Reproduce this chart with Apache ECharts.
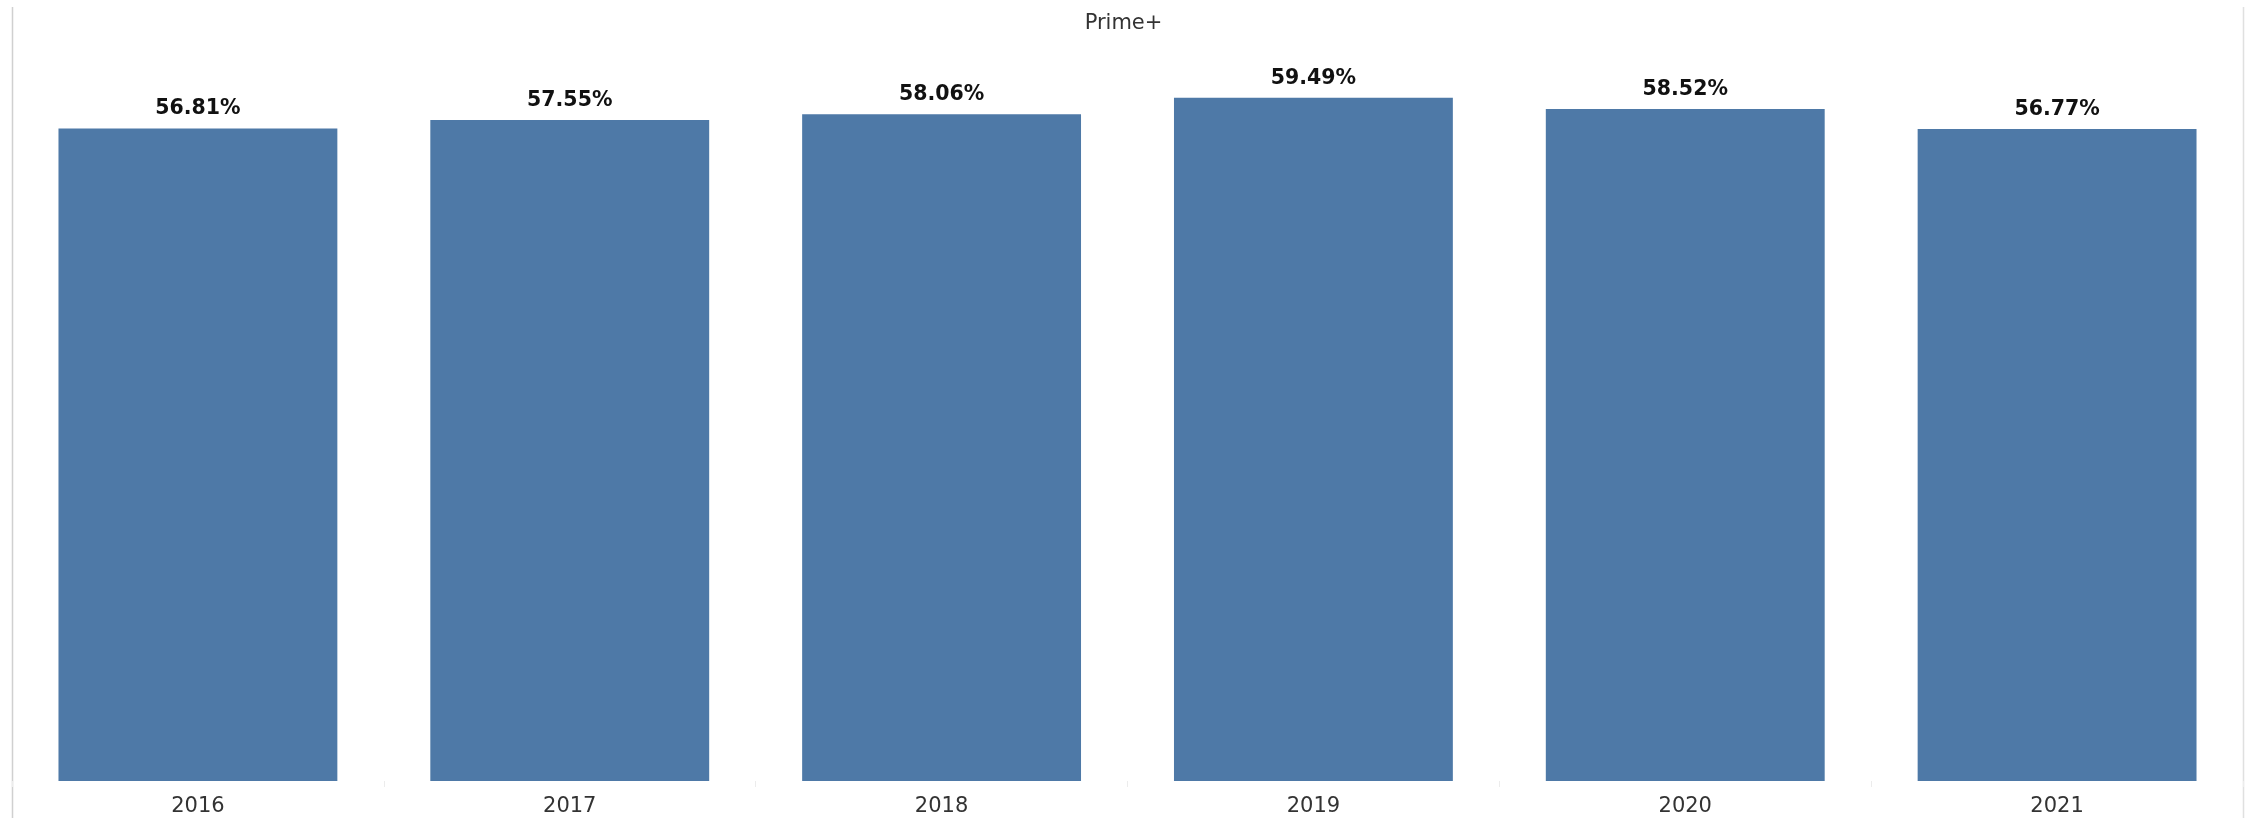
<!DOCTYPE html>
<html>
<head>
  <meta charset="utf-8">
  <title>Prime+</title>
  <style type="text/css">
    html, body { margin: 0; padding: 0; background: #fff; }
    #main { width: 2247px; height: 818px; }
  </style>
</head>
<body>
<div id="main"></div>
<script type="text/javascript" src="https://cdn.jsdelivr.net/npm/echarts@6/dist/echarts.min.js"></script>
<script type="text/javascript">
  var years = ['2016', '2017', '2018', '2019', '2020', '2021'];
  var shares = [56.81, 57.55, 58.06, 59.49, 58.52, 56.77];

  var myChart = echarts.init(document.getElementById('main'));

  var option = {
    backgroundColor: '#fff',
    animation: false,
    title: {
      text: 'Prime+',
      left: 'center',
      top: 8,
      textStyle: {
        fontFamily: 'DejaVu Sans',
        fontSize: 21,
        fontWeight: 'normal',
        color: '#333'
      }
    },
    // thin frame lines like the original view
    graphic: [
      {type: 'line', shape: {x1: 12.5, y1: 7, x2: 12.5, y2: 818}, style: {stroke: '#d0d0d0', lineWidth: 1.5}},
      {type: 'line', shape: {x1: 2243.5, y1: 7, x2: 2243.5, y2: 818}, style: {stroke: '#e0e0e0', lineWidth: 1.5}}
    ],
    grid: {
      left: 12,
      right: 4,
      top: 7,
      bottom: 37
    },
    xAxis: {
      type: 'category',
      data: years,
      axisLine: {show: false},
      axisTick: {show: true, length: 6, lineStyle: {color: '#ececec'}},
      axisLabel: {
        margin: 15,
        fontFamily: 'DejaVu Sans',
        fontSize: 21,
        color: '#333'
      }
    },
    yAxis: {
      type: 'value',
      min: 0,
      max: 67.4,
      show: false
    },
    series: [
      {
        type: 'bar',
        data: shares,
        barCategoryGap: '25%',
        itemStyle: {color: '#4e79a7'},
        label: {
          show: true,
          position: 'top',
          distance: 9,
          fontFamily: 'DejaVu Sans',
          fontSize: 20.5,
          fontWeight: 'bold',
          color: '#111',
          formatter: function (p) { return p.value.toFixed(2) + '%'; }
        }
      }
    ]
  };

  myChart.setOption(option);
</script>
</body>
</html>
